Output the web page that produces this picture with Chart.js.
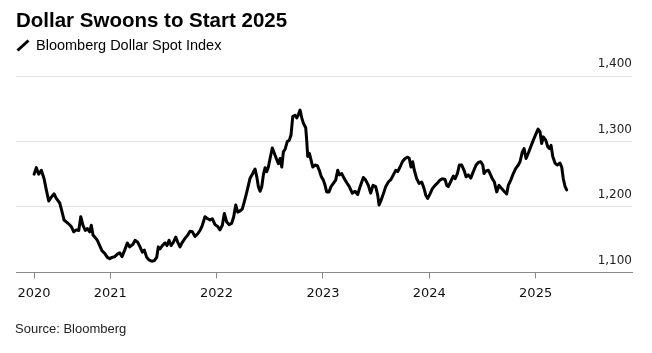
<!DOCTYPE html>
<html>
<head>
<meta charset="utf-8">
<script src="https://cdn.jsdelivr.net/npm/chart.js@4.4.1/dist/chart.umd.min.js"></script>
<style>
  body { margin: 0; background: #fff; font-family: "Liberation Sans", Arial, sans-serif; }
  #wrap { position: relative; width: 652px; height: 353px; overflow: hidden; }
  #chart { position: absolute; left: 0; top: 0; }
  .title { position: absolute; left: 16px; top: 7.6px; font-size: 20.5px; line-height: 24px; font-weight: bold; color: #000; white-space: nowrap; }
  .subtitle { position: absolute; left: 36px; top: 36px; font-size: 14.5px; line-height: 18px; color: #000; white-space: nowrap; }
  .icon { position: absolute; left: 16px; top: 39px; }
  .source { position: absolute; left: 15px; top: 320.5px; font-size: 13px; line-height: 16px; color: #222; white-space: nowrap; }
</style>
</head>
<body>
<div id="wrap">
  <canvas id="chart" width="652" height="353"></canvas>
  <div class="title">Dollar Swoons to Start 2025</div>
  <svg class="icon" width="14" height="13"><line x1="1.5" y1="11.5" x2="12.5" y2="1.5" stroke="#000" stroke-width="3"/></svg>
  <div class="subtitle">Bloomberg Dollar Spot Index</div>
  <div class="source">Source: Bloomberg</div>
</div>
<script>
// Bloomberg Dollar Spot Index, dates as decimal years
const dates = [
  2020.284, 2020.305, 2020.328, 2020.352, 2020.378, 2020.399, 2020.422, 2020.446, 2020.472, 2020.493,
  2020.525, 2020.540, 2020.566, 2020.603, 2020.634, 2020.657, 2020.681, 2020.704, 2020.723, 2020.744,
  2020.766, 2020.785, 2020.807, 2020.822, 2020.838, 2020.860, 2020.879, 2020.901, 2020.923, 2020.948,
  2020.973, 2020.995, 2021.017, 2021.042, 2021.067, 2021.089, 2021.111, 2021.136, 2021.161, 2021.183,
  2021.214,
  2021.233, 2021.259, 2021.280, 2021.302, 2021.321, 2021.343, 2021.365, 2021.390, 2021.415, 2021.437,
  2021.452, 2021.468, 2021.490, 2021.515, 2021.534, 2021.553, 2021.572, 2021.593, 2021.616, 2021.635,
  2021.656, 2021.678, 2021.703, 2021.729, 2021.750, 2021.772, 2021.797, 2021.823, 2021.844, 2021.866,
  2021.891, 2021.917, 2021.938, 2021.960, 2021.985, 2022.011, 2022.032, 2022.054, 2022.073, 2022.095,
  2022.117, 2022.142, 2022.161, 2022.180, 2022.199, 2022.221, 2022.242,
  2022.261, 2022.277, 2022.299, 2022.315, 2022.340, 2022.362, 2022.378, 2022.393, 2022.409, 2022.425,
  2022.440, 2022.456, 2022.472, 2022.487, 2022.503, 2022.524, 2022.543, 2022.566, 2022.581, 2022.597,
  2022.613, 2022.628, 2022.646, 2022.665, 2022.684, 2022.700, 2022.716, 2022.738, 2022.754, 2022.769,
  2022.785, 2022.801, 2022.816, 2022.838, 2022.848, 2022.857, 2022.872, 2022.888, 2022.904, 2022.926,
  2022.947, 2022.966, 2022.985, 2023.004, 2023.020, 2023.035, 2023.057, 2023.076, 2023.098, 2023.120,
  2023.139, 2023.154, 2023.177, 2023.198,
  2023.224, 2023.248, 2023.276, 2023.302, 2023.327, 2023.349, 2023.380, 2023.402, 2023.427, 2023.449,
  2023.471, 2023.496, 2023.515, 2023.528, 2023.546, 2023.568, 2023.590, 2023.615, 2023.640, 2023.662,
  2023.685, 2023.703, 2023.725, 2023.747, 2023.772, 2023.797, 2023.812, 2023.828, 2023.844, 2023.859,
  2023.882, 2023.904, 2023.929, 2023.951, 2023.967, 2023.985, 2024.007, 2024.029, 2024.054, 2024.079,
  2024.101, 2024.123, 2024.148, 2024.164, 2024.179,
  2024.205, 2024.226, 2024.242, 2024.264, 2024.283, 2024.305, 2024.327, 2024.346, 2024.367, 2024.390,
  2024.414, 2024.440, 2024.461, 2024.484, 2024.503, 2024.515, 2024.534, 2024.555, 2024.571, 2024.593,
  2024.612, 2024.634, 2024.656, 2024.681, 2024.703, 2024.728, 2024.743, 2024.766, 2024.790, 2024.813,
  2024.837, 2024.853, 2024.875, 2024.891, 2024.910, 2024.931, 2024.954, 2024.978, 2025.004, 2025.023,
  2025.041, 2025.057, 2025.072, 2025.095, 2025.114, 2025.129, 2025.145, 2025.161, 2025.182, 2025.204,
  2025.229, 2025.245, 2025.260, 2025.277, 2025.292
];
const values = [
  1250, 1260, 1250, 1256, 1243, 1226, 1209, 1215, 1220, 1213,
  1206, 1197, 1180, 1175, 1170, 1162, 1165, 1164, 1185, 1172,
  1164, 1167, 1162, 1172, 1157, 1153, 1149, 1141, 1133, 1129,
  1123, 1121, 1123, 1124, 1128, 1130, 1124, 1134, 1145, 1139,
  1143,
  1149, 1146, 1139, 1131, 1134, 1123, 1119, 1117, 1118, 1123,
  1139, 1136, 1141, 1145, 1141, 1149, 1141, 1146, 1154, 1146,
  1139, 1146, 1152, 1157, 1163, 1162, 1155, 1159, 1164, 1172,
  1185, 1182, 1180, 1182, 1173, 1170, 1165, 1172, 1190, 1177,
  1173, 1175, 1185, 1203, 1192, 1194, 1197,
  1208, 1218, 1233, 1244, 1251, 1258, 1246, 1231, 1224, 1231,
  1249, 1260, 1254, 1261, 1274, 1290, 1282, 1272, 1266, 1274,
  1261, 1284, 1289, 1300, 1302, 1310, 1338, 1340, 1336, 1341,
  1348, 1336, 1328, 1321, 1300, 1277, 1282, 1272, 1261, 1264,
  1263, 1256, 1246, 1241, 1233, 1223, 1223, 1231, 1236, 1241,
  1256, 1249, 1251, 1244,
  1237, 1231, 1221, 1224, 1219, 1231, 1245, 1241, 1233, 1221,
  1233, 1231, 1218, 1203, 1210, 1220, 1231, 1238, 1242, 1249,
  1256, 1254, 1261, 1269, 1274, 1276, 1274, 1261, 1269, 1256,
  1243, 1236, 1238, 1228, 1218, 1213, 1220, 1228, 1233, 1237,
  1241, 1243, 1242, 1233, 1231,
  1240, 1247, 1243, 1251, 1264, 1264, 1256, 1246, 1249, 1244,
  1254, 1264, 1268, 1269, 1264, 1251, 1255, 1256, 1251, 1243,
  1238, 1223, 1233, 1228, 1224, 1220, 1233, 1241, 1251, 1259,
  1264, 1269, 1284, 1289, 1274, 1282, 1292, 1302, 1312, 1319,
  1315, 1297, 1307, 1302, 1292, 1289, 1294, 1277, 1267, 1264,
  1267, 1261, 1243, 1231, 1226
];
const tickYears = [2020.284, 2021, 2022, 2023, 2024, 2025];
const tickLabels = ['2020', '2021', '2022', '2023', '2024', '2025'];
const xMin = 2020.114;
const xMax = 2025.906;
const yMin = 1100;
const yMax = 1400;
const yStep = 100;

const ctx = document.getElementById('chart').getContext('2d');

const chart = new Chart(ctx, {
  type: 'line',
  data: {
    datasets: [
      {
        data: dates.map((d, i) => ({ x: d, y: values[i] })),
        borderColor: '#000',
        borderWidth: 3,
        pointRadius: 0,
        tension: 0,
        borderJoinStyle: 'round',
        borderCapStyle: 'round'
      }
    ]
  },
  options: {
    responsive: false,
    animation: false,
    devicePixelRatio: 1,
    locale: 'en-US',
    layout: { padding: { left: 16, right: 20, top: 76, bottom: 45 } },
    plugins: {
      legend: { display: false },
      tooltip: { enabled: false }
    },
    scales: {
      x: {
        type: 'linear',
        min: xMin,
        max: xMax,
        afterBuildTicks: scale => { scale.ticks = tickYears.map(v => ({ value: v })); },
        ticks: {
          callback: (value, index) => tickLabels[index],
          font: { family: 'DejaVu Sans', size: 13 },
          color: '#111',
          padding: 7,
          maxRotation: 0,
          autoSkip: false
        },
        grid: { drawOnChartArea: false, drawTicks: true, tickLength: 6, color: '#888' },
        border: { color: '#888', width: 1 }
      },
      y: {
        position: 'right',
        min: yMin,
        max: yMax,
        ticks: {
          stepSize: yStep,
          mirror: true,
          padding: 0,
          labelOffset: -12,
          font: { family: 'DejaVu Sans', size: 12 },
          color: '#222'
        },
        grid: { color: '#e3e3e3', drawTicks: false },
        border: { display: false }
      }
    }
  }
});
</script>
</body>
</html>
